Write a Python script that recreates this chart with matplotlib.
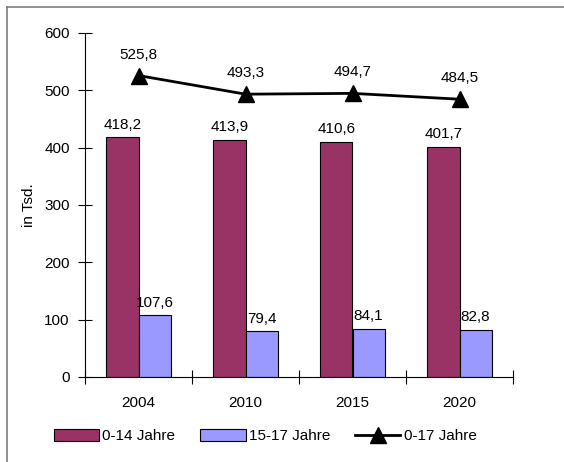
import matplotlib.pyplot as plt
import numpy as np
from matplotlib.lines import Line2D

plt.rcParams["font.family"] = ["Liberation Sans", "DejaVu Sans"]
plt.rcParams["font.size"] = 11

years = ["2004", "2010", "2015", "2020"]
age_0_14 = [418.2, 413.9, 410.6, 401.7]
age_15_17 = [107.6, 79.4, 84.1, 82.8]
age_0_17 = [525.8, 493.3, 494.7, 484.5]

W, H = 564, 462
fig = plt.figure(figsize=(W / 100, H / 100), dpi=100)
ax = fig.add_axes([85 / W, 1 - 377 / H, (513 - 85) / W, (377 - 33) / H])

x = np.arange(len(years)) + 0.5
bw = 0.3
b1 = ax.bar(x - bw / 2, age_0_14, bw, color="#993366", edgecolor="black", linewidth=0.8, label="0-14 Jahre")
b2 = ax.bar(x + bw / 2, age_15_17, bw, color="#9999FF", edgecolor="black", linewidth=0.8, label="15-17 Jahre")
ln, = ax.plot(x, age_0_17, color="black", lw=2, marker="^", markersize=11, label="0-17 Jahre")

fmt = lambda v: f"{v:.1f}".replace(".", ",")
for bars, vals in ((b1, age_0_14), (b2, age_15_17)):
    for r, v in zip(bars, vals):
        ax.annotate(fmt(v), (r.get_x() + r.get_width() / 2, v), xytext=(0, 4),
                    textcoords="offset points", ha="center", va="bottom")
for xi, v in zip(x, age_0_17):
    ax.annotate(fmt(v), (xi, v), xytext=(0, 10), textcoords="offset points",
                ha="center", va="bottom")

ax.set_xlim(0, len(years))
ax.set_ylim(0, 600)
ax.set_yticks(range(0, 601, 100))
ax.set_xticks(np.arange(len(years) + 1), minor=False)
ax.set_xticklabels([])
ax.set_xticks(x, minor=True)
ax.set_xticklabels(years, minor=True)
ax.tick_params(axis="x", which="major", direction="inout", length=10, width=0.8)
ax.tick_params(axis="x", which="minor", length=0, pad=14)
ax.tick_params(axis="y", direction="inout", length=10, width=0.8, pad=6)
for s in ("top", "right"):
    ax.spines[s].set_visible(False)
ax.spines["left"].set_linewidth(0.8)
ax.spines["bottom"].set_linewidth(0.8)
ax.set_ylabel("in Tsd.", labelpad=6)

handles = [b1, b2, Line2D([], [], color="black", lw=2, marker="^", markersize=11)]
fig.legend(handles, ["0-14 Jahre", "15-17 Jahre", "0-17 Jahre"], loc="center",
           bbox_to_anchor=(265 / W, 1 - 436 / H), ncol=3, frameon=False,
           handlelength=3.0, handleheight=0.8, handletextpad=0.2,
           columnspacing=1.6)

# outer frame (left and top edges)
fig.add_artist(Line2D([6.5 / W, 6.5 / W], [0, 1 - 6.5 / H], color="#7f7f7f", lw=1.2))
fig.add_artist(Line2D([6.5 / W, 1], [1 - 6.5 / H, 1 - 6.5 / H], color="#7f7f7f", lw=1.2))

fig.savefig("out.png", dpi=100)
